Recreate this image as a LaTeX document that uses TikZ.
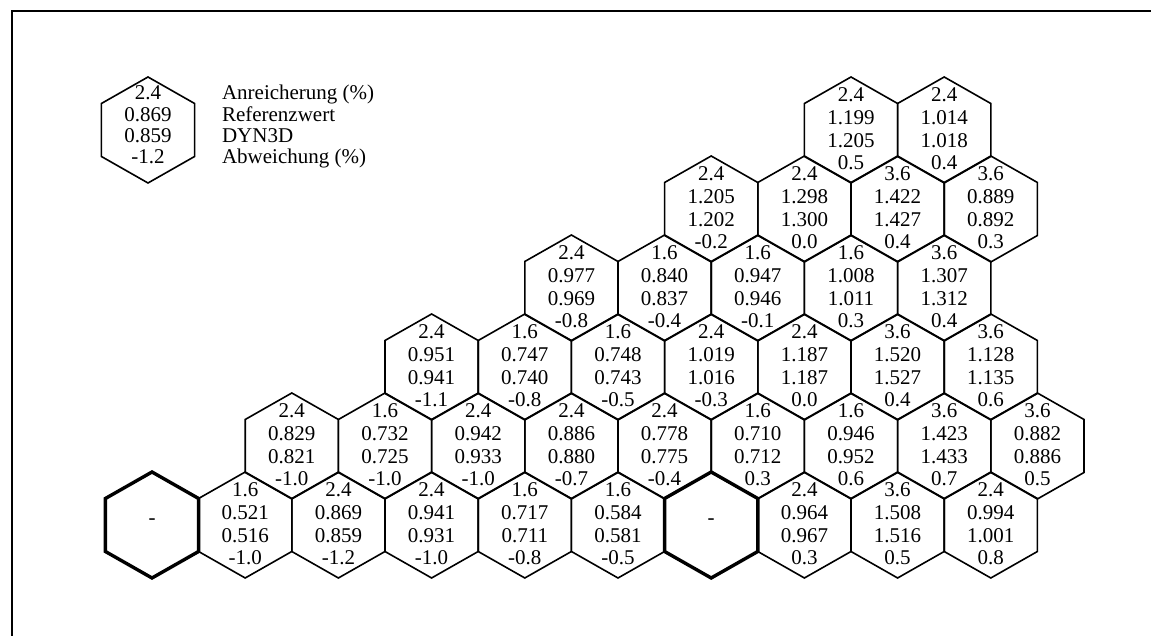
\documentclass[tikz,border=0pt]{standalone}
\usepackage{fontspec}
\setmainfont{Liberation Serif}
\usetikzlibrary{positioning}
\tikzset{
  hexline/.style={draw=black, line width=1.6pt, line join=miter},
  hexbold/.style={draw=black, line width=3.4pt, line join=miter},
  celltext/.style={align=center, inner sep=0pt, text=black,
    font=\fontsize{21}{22.6}\selectfont},
  keytext/.style={align=left, inner sep=0pt, text=black,
    font=\fontsize{21}{21.4}\selectfont},
  frameline/.style={draw=black, line width=2pt},
}
% hexagon (pointed top) round a centre
\newcommand{\hexpath}[2]{%
  \draw[#1] (#2) ++(0,53) -- ++(46.6,-26.5) -- ++(0,-53) -- ++(-46.6,-26.5)
    -- ++(-46.6,26.5) -- ++(0,53) -- cycle;}
% name, half-step column, row, enrichment, reference, DYN3D, deviation
\newcommand{\fuelcell}[7]{%
  \coordinate (#1) at ({152+46.6*#2},{111+79*#3});
  \hexpath{hexline}{#1}
  \node[celltext] (#1-txt) at ([yshift=1pt]#1) {#4\\#5\\#6\\#7};}
% name, half-step column, row (empty position)
\newcommand{\emptycell}[3]{%
  \coordinate (#1) at ({152+46.6*#2},{111+79*#3});
  \hexpath{hexbold}{#1}
  \node[celltext] (#1-txt) at ([yshift=3pt]#1) {-};}

\begin{document}
\begin{tikzpicture}[x=1pt, y=1pt]
\useasboundingbox (0,0) rectangle (1151,636);

%% Frame
\coordinate (fbl) at (12,0);
\coordinate (ftl) at (12,625);
\coordinate (ftr) at (1151,625);
\draw[frameline] (fbl) -- (ftl) -- (ftr);

%% Legend
\coordinate (key) at (148,506);
\hexpath{hexline}{key}
\node[keytext, align=center] (key-txt) at ([yshift=5pt]key) {2.4\\0.869\\0.859\\-1.2};
\node[keytext, anchor=base west] (key-lbl) at ([xshift=50pt]key-txt.base east)
  {Anreicherung (\%)\\Referenzwert\\DYN3D\\Abweichung (\%)};

%% Row 0 (bottom)
\emptycell{c0-0}{0}{0}
\fuelcell{c0-2}{2}{0}{1.6}{0.521}{0.516}{-1.0}
\fuelcell{c0-4}{4}{0}{2.4}{0.869}{0.859}{-1.2}
\fuelcell{c0-6}{6}{0}{2.4}{0.941}{0.931}{-1.0}
\fuelcell{c0-8}{8}{0}{1.6}{0.717}{0.711}{-0.8}
\fuelcell{c0-10}{10}{0}{1.6}{0.584}{0.581}{-0.5}
\emptycell{c0-12}{12}{0}
\fuelcell{c0-14}{14}{0}{2.4}{0.964}{0.967}{0.3}
\fuelcell{c0-16}{16}{0}{3.6}{1.508}{1.516}{0.5}
\fuelcell{c0-18}{18}{0}{2.4}{0.994}{1.001}{0.8}

%% Row 1
\fuelcell{c1-3}{3}{1}{2.4}{0.829}{0.821}{-1.0}
\fuelcell{c1-5}{5}{1}{1.6}{0.732}{0.725}{-1.0}
\fuelcell{c1-7}{7}{1}{2.4}{0.942}{0.933}{-1.0}
\fuelcell{c1-9}{9}{1}{2.4}{0.886}{0.880}{-0.7}
\fuelcell{c1-11}{11}{1}{2.4}{0.778}{0.775}{-0.4}
\fuelcell{c1-13}{13}{1}{1.6}{0.710}{0.712}{0.3}
\fuelcell{c1-15}{15}{1}{1.6}{0.946}{0.952}{0.6}
\fuelcell{c1-17}{17}{1}{3.6}{1.423}{1.433}{0.7}
\fuelcell{c1-19}{19}{1}{3.6}{0.882}{0.886}{0.5}

%% Row 2
\fuelcell{c2-6}{6}{2}{2.4}{0.951}{0.941}{-1.1}
\fuelcell{c2-8}{8}{2}{1.6}{0.747}{0.740}{-0.8}
\fuelcell{c2-10}{10}{2}{1.6}{0.748}{0.743}{-0.5}
\fuelcell{c2-12}{12}{2}{2.4}{1.019}{1.016}{-0.3}
\fuelcell{c2-14}{14}{2}{2.4}{1.187}{1.187}{0.0}
\fuelcell{c2-16}{16}{2}{3.6}{1.520}{1.527}{0.4}
\fuelcell{c2-18}{18}{2}{3.6}{1.128}{1.135}{0.6}

%% Row 3
\fuelcell{c3-9}{9}{3}{2.4}{0.977}{0.969}{-0.8}
\fuelcell{c3-11}{11}{3}{1.6}{0.840}{0.837}{-0.4}
\fuelcell{c3-13}{13}{3}{1.6}{0.947}{0.946}{-0.1}
\fuelcell{c3-15}{15}{3}{1.6}{1.008}{1.011}{0.3}
\fuelcell{c3-17}{17}{3}{3.6}{1.307}{1.312}{0.4}

%% Row 4
\fuelcell{c4-12}{12}{4}{2.4}{1.205}{1.202}{-0.2}
\fuelcell{c4-14}{14}{4}{2.4}{1.298}{1.300}{0.0}
\fuelcell{c4-16}{16}{4}{3.6}{1.422}{1.427}{0.4}
\fuelcell{c4-18}{18}{4}{3.6}{0.889}{0.892}{0.3}

%% Row 5 (top)
\fuelcell{c5-15}{15}{5}{2.4}{1.199}{1.205}{0.5}
\fuelcell{c5-17}{17}{5}{2.4}{1.014}{1.018}{0.4}

\end{tikzpicture}
\end{document}
